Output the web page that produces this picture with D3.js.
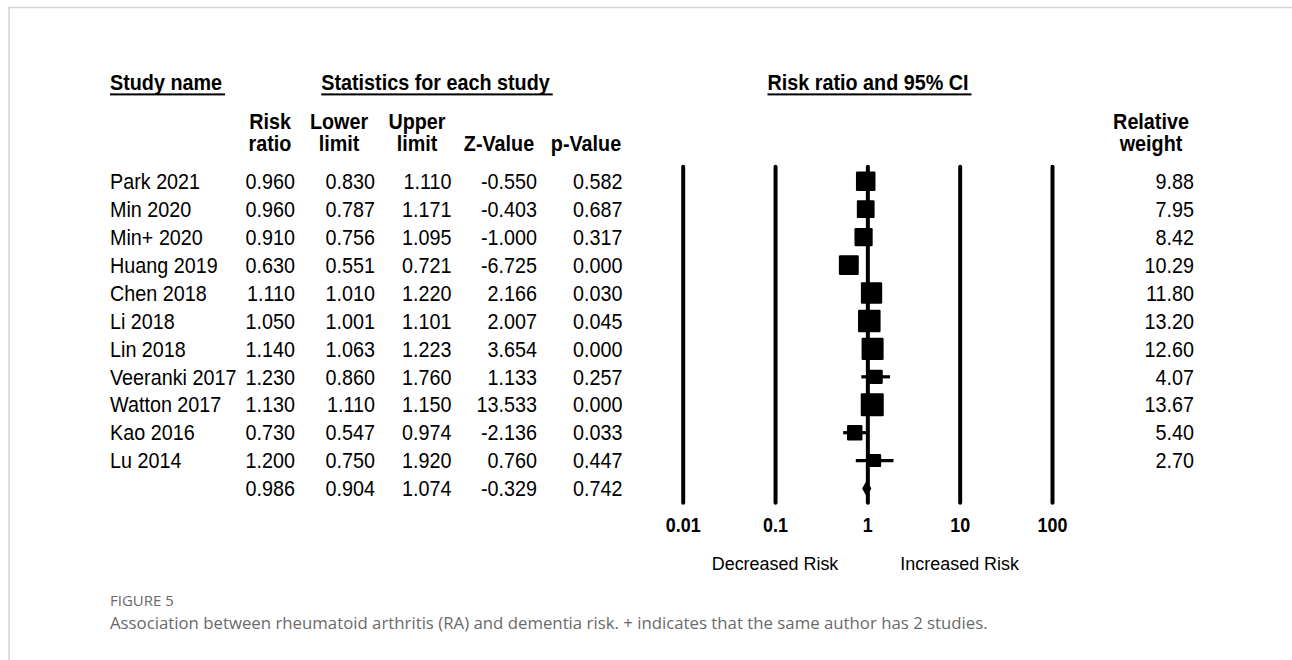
<!DOCTYPE html>
<html>
<head>
<meta charset="utf-8">
<script src="https://cdn.jsdelivr.net/npm/d3@7"></script>
<style>
  html, body { margin: 0; padding: 0; background: #fff; }
  svg { display: block; }
</style>
</head>
<body>
<svg id="chart" width="1292" height="660"></svg>
<script>
// Study-level results
const studies  = ["Park 2021", "Min 2020", "Min+ 2020", "Huang 2019", "Chen 2018", "Li 2018",
                  "Lin 2018", "Veeranki 2017", "Watton 2017", "Kao 2016", "Lu 2014"];
const riskRatio = [0.960, 0.960, 0.910, 0.630, 1.110, 1.050, 1.140, 1.230, 1.130, 0.730, 1.200];
const lowerCI   = [0.830, 0.787, 0.756, 0.551, 1.010, 1.001, 1.063, 0.860, 1.110, 0.547, 0.750];
const upperCI   = [1.110, 1.171, 1.095, 0.721, 1.220, 1.101, 1.223, 1.760, 1.150, 0.974, 1.920];
const zValues   = [-0.550, -0.403, -1.000, -6.725, 2.166, 2.007, 3.654, 1.133, 13.533, -2.136, 0.760];
const pValues   = [0.582, 0.687, 0.317, 0.000, 0.030, 0.045, 0.000, 0.257, 0.000, 0.033, 0.447];
const weights   = [9.88, 7.95, 8.42, 10.29, 11.80, 13.20, 12.60, 4.07, 13.67, 5.40, 2.70];

// Pooled estimate
const pooled = { rr: 0.986, lower: 0.904, upper: 1.074, z: -0.329, p: 0.742 };

// Axis ticks
const tickValues = [0.01, 0.1, 1, 10, 100];
const tickLabels = ["0.01", "0.1", "1", "10", "100"];

const svg = d3.select("#chart");
const FONT = "'Liberation Sans', Arial, sans-serif";
const SX = 0.92;          // horizontal squeeze of the table typeface
// plain hyphen for negative numbers
const locale = d3.formatLocale({ decimal: ".", thousands: ",", grouping: [3], currency: ["", ""], minus: "-" });
const fmt3 = locale.format(".3f");
const fmt2 = locale.format(".2f");

// frame
svg.append("path")
  .attr("d", "M9,660 V7.5 H1292")
  .attr("fill", "none").attr("stroke", "#d6d6d6").attr("stroke-width", 1.6);

function label(x, y, s, opt = {}) {
  const sx = opt.sx || SX;
  return svg.append("text")
    .attr("transform", `translate(${x},${y}) scale(${sx},1)`)
    .attr("text-anchor", opt.anchor || "start")
    .attr("font-family", FONT)
    .attr("font-size", opt.size || 21.5)
    .attr("font-weight", opt.bold ? "bold" : "normal")
    .attr("fill", "#000")
    .text(s);
}
function underlined(x, y, s, anchor) {
  const t = label(x, y, s, { bold: true, anchor });
  const w = t.node().getComputedTextLength() * SX;
  const x0 = anchor === "middle" ? x - w / 2 : x;
  svg.append("rect").attr("x", x0).attr("y", y + 3.4).attr("width", w + 3).attr("height", 2).attr("fill", "#000");
}

// top headers
underlined(110, 90, "Study name ", "start");
underlined(435.5, 90, "Statistics for each study", "middle");
underlined(868, 90, "Risk ratio and 95% CI", "middle");

// column headers
const colHead = [
  { x: 270, a: "Risk", b: "ratio" },
  { x: 339, a: "Lower", b: "limit" },
  { x: 417, a: "Upper", b: "limit" },
  { x: 499, a: "", b: "Z-Value" },
  { x: 586, a: "", b: "p-Value" },
  { x: 1151, a: "Relative", b: "weight" }
];
colHead.forEach(c => {
  if (c.a) label(c.x, 128.5, c.a, { bold: true, anchor: "middle" });
  label(c.x, 150.5, c.b, { bold: true, anchor: "middle" });
});

// row layout
const nRows = studies.length + 1;
const y = d3.scaleLinear().domain([0, nRows - 1]).range([181.3, 181.3 + 27.93 * (nRows - 1)]);
const baseOff = 7.7;

const cols = { rr: 295, lo: 375, hi: 451.5, z: 537, p: 622.5, w: 1194 };

studies.forEach((s, i) => {
  const yb = y(i) + baseOff;
  label(110, yb, s);
  label(cols.rr, yb, fmt3(riskRatio[i]), { anchor: "end" });
  label(cols.lo, yb, fmt3(lowerCI[i]), { anchor: "end" });
  label(cols.hi, yb, fmt3(upperCI[i]), { anchor: "end" });
  label(cols.z, yb, fmt3(zValues[i]), { anchor: "end" });
  label(cols.p, yb, fmt3(pValues[i]), { anchor: "end" });
  label(cols.w, yb, fmt2(weights[i]), { anchor: "end" });
});
{
  const yb = y(nRows - 1) + baseOff;
  label(cols.rr, yb, fmt3(pooled.rr), { anchor: "end" });
  label(cols.lo, yb, fmt3(pooled.lower), { anchor: "end" });
  label(cols.hi, yb, fmt3(pooled.upper), { anchor: "end" });
  label(cols.z, yb, fmt3(pooled.z), { anchor: "end" });
  label(cols.p, yb, fmt3(pooled.p), { anchor: "end" });
}

// forest plot
const x = d3.scaleLog().domain([0.01, 100]).range([682.7, 1052]);
const plotTop = 166.7, plotBottom = 502.7;

const axis = d3.axisBottom(x)
  .tickValues(tickValues)
  .tickFormat((d, i) => tickLabels[i])
  .tickSizeInner(-(plotBottom - plotTop))
  .tickSizeOuter(0)
  .tickPadding(15);

const ax = svg.append("g").attr("transform", `translate(0,${plotBottom})`).call(axis);
ax.select(".domain").remove();
ax.selectAll(".tick line").attr("stroke", "#000").attr("stroke-width", 4).attr("stroke-linecap", "round");
ax.selectAll(".tick text")
  .attr("font-family", FONT).attr("font-size", 19.5).attr("font-weight", "bold").attr("fill", "#000")
  .attr("transform", `scale(${SX},1)`);

// confidence intervals
const sz = d3.scaleLinear().domain([0, 13.67]).range([10.5, 23]);
svg.append("g").selectAll("line").data(studies).join("line")
  .attr("x1", (d, i) => x(lowerCI[i])).attr("x2", (d, i) => x(upperCI[i]))
  .attr("y1", (d, i) => y(i)).attr("y2", (d, i) => y(i))
  .attr("stroke", "#000").attr("stroke-width", 3.2);

// weighted boxes
svg.append("g").selectAll("rect").data(studies).join("rect")
  .attr("x", (d, i) => x(riskRatio[i]) - sz(weights[i]) / 2)
  .attr("y", (d, i) => y(i) - sz(weights[i]) / 2)
  .attr("width", (d, i) => sz(weights[i]))
  .attr("height", (d, i) => sz(weights[i]))
  .attr("rx", 1.2)
  .attr("fill", "#000");

// pooled diamond
{
  const yc = y(nRows - 1), h = 6.2;
  svg.append("path")
    .attr("d", `M${x(pooled.lower)},${yc} L${x(pooled.rr)},${yc - h} L${x(pooled.upper)},${yc} L${x(pooled.rr)},${yc + h} Z`)
    .attr("fill", "#000").attr("stroke", "#000").attr("stroke-width", 2).attr("stroke-linejoin", "round");
}

// direction labels
label(x(0.1), 570, "Decreased Risk", { anchor: "middle", size: 18.5, sx: 0.97 });
label(x(10), 570, "Increased Risk", { anchor: "middle", size: 18.5, sx: 0.97 });

// caption
svg.append("text").attr("x", 110).attr("y", 606)
  .attr("font-family", "'Open Sans', sans-serif").attr("font-size", 15).attr("fill", "#6a6a6a")
  .text("FIGURE 5");
svg.append("text").attr("x", 110).attr("y", 628.5)
  .attr("font-family", "'Open Sans', sans-serif").attr("font-size", 16.8).attr("fill", "#6a6a6a")
  .text("Association between rheumatoid arthritis (RA) and dementia risk. + indicates that the same author has 2 studies.");
</script>
</body>
</html>
